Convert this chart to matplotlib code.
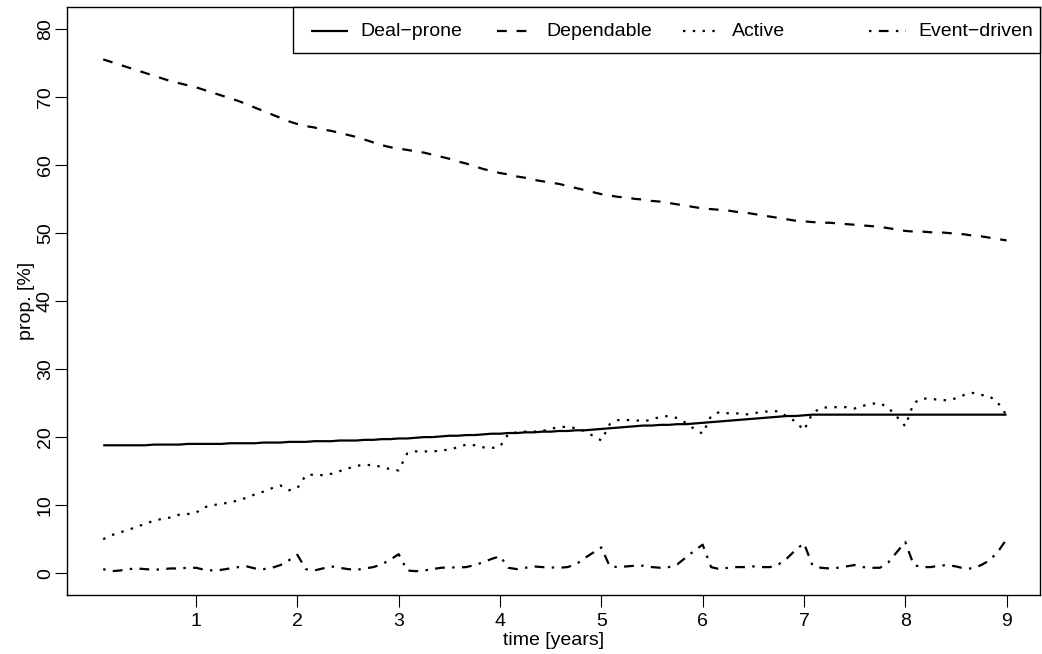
import numpy as np
import matplotlib
matplotlib.use("Agg")
import matplotlib.pyplot as plt
from matplotlib.lines import Line2D
from matplotlib.patches import Rectangle

plt.rcParams['font.family'] = ['Liberation Sans', 'DejaVu Sans']

# monthly time points (years)
months = np.arange(1, 109)
time_years = months / 12.0

deal_prone = [
    18.8, 18.8, 18.8, 18.8, 18.8, 18.8, 18.9, 18.9, 18.9, 18.9, 19.0, 19.0,
    19.0, 19.0, 19.0, 19.1, 19.1, 19.1, 19.1, 19.2, 19.2, 19.2, 19.3, 19.3,
    19.3, 19.4, 19.4, 19.4, 19.5, 19.5, 19.5, 19.6, 19.6, 19.7, 19.7, 19.8,
    19.8, 19.9, 20.0, 20.0, 20.1, 20.2, 20.2, 20.3, 20.3, 20.4, 20.5, 20.5,
    20.6, 20.6, 20.7, 20.7, 20.8, 20.8, 20.9, 20.9, 21.0, 21.0, 21.1, 21.2,
    21.3, 21.4, 21.5, 21.6, 21.7, 21.7, 21.8, 21.8, 21.9, 21.9, 22.0, 22.1,
    22.2, 22.3, 22.4, 22.5, 22.6, 22.7, 22.8, 22.9, 23.0, 23.1, 23.1, 23.2,
    23.3, 23.3, 23.3, 23.3, 23.3, 23.3, 23.3, 23.3, 23.3, 23.3, 23.3, 23.3,
    23.3, 23.3, 23.3, 23.3, 23.3, 23.3, 23.3, 23.3, 23.3, 23.3, 23.3, 23.3,
]

dependable = [
    75.5, 75.1, 74.7, 74.3, 73.9, 73.5, 73.1, 72.7, 72.3, 72.0, 71.7, 71.4,
    71.0, 70.6, 70.2, 69.8, 69.4, 68.9, 68.4, 67.9, 67.4, 66.9, 66.4, 66.0,
    65.7, 65.5, 65.2, 65.0, 64.7, 64.4, 64.1, 63.7, 63.3, 62.9, 62.6, 62.4,
    62.2, 62.0, 61.8, 61.5, 61.2, 60.9, 60.5, 60.2, 59.8, 59.4, 59.1, 58.8,
    58.6, 58.3, 58.1, 57.8, 57.6, 57.4, 57.2, 56.9, 56.6, 56.3, 56.0, 55.7,
    55.5, 55.3, 55.2, 55.0, 54.9, 54.7, 54.6, 54.4, 54.2, 54.0, 53.8, 53.6,
    53.5, 53.4, 53.3, 53.1, 53.0, 52.8, 52.6, 52.4, 52.2, 52.0, 51.8, 51.7,
    51.6, 51.5, 51.5, 51.4, 51.3, 51.2, 51.1, 51.0, 50.9, 50.7, 50.5, 50.3,
    50.2, 50.2, 50.1, 50.1, 50.0, 49.9, 49.8, 49.6, 49.5, 49.3, 49.1, 48.9,
]

active = [
    5.0, 5.6, 6.0, 6.4, 6.8, 7.3, 7.7, 8.0, 8.2, 8.6, 8.7, 8.9,
    9.7, 10.0, 10.2, 10.4, 10.7, 11.1, 11.6, 12.0, 12.5, 12.9, 12.2, 12.5,
    14.4, 14.5, 14.4, 14.6, 15.0, 15.4, 15.8, 15.9, 15.9, 15.6, 15.3, 15.1,
    17.6, 17.9, 17.9, 17.9, 18.0, 18.2, 18.5, 18.9, 18.8, 18.5, 18.4, 18.6,
    20.5, 20.7, 20.8, 20.8, 20.9, 21.2, 21.5, 21.5, 21.3, 20.9, 20.2, 19.5,
    21.9, 22.5, 22.5, 22.5, 22.3, 22.6, 23.0, 23.1, 22.8, 22.1, 21.2, 20.5,
    23.1, 23.7, 23.5, 23.5, 23.3, 23.5, 23.7, 23.8, 23.8, 23.0, 22.3, 21.0,
    23.5, 24.3, 24.4, 24.4, 24.4, 24.2, 24.6, 24.9, 25.0, 24.3, 23.0, 21.6,
    25.0, 25.7, 25.6, 25.5, 25.4, 25.7, 26.2, 26.5, 26.2, 26.0, 25.0, 23.2,
]

event_driven = [
    0.6, 0.3, 0.4, 0.6, 0.7, 0.6, 0.5, 0.6, 0.7, 0.7, 0.8, 0.8,
    0.5, 0.4, 0.5, 0.7, 0.9, 1.0, 0.7, 0.6, 0.8, 1.2, 1.9, 2.7,
    0.6, 0.4, 0.7, 1.0, 0.8, 0.6, 0.5, 0.7, 0.9, 1.3, 2.0, 2.8,
    0.4, 0.3, 0.4, 0.6, 0.8, 0.85, 0.85, 0.9, 1.2, 1.6, 2.1, 2.5,
    0.8, 0.6, 0.8, 1.0, 0.9, 0.85, 0.8, 0.9, 1.3, 2.2, 3.0, 3.8,
    1.0, 0.9, 1.0, 1.1, 1.1, 0.9, 0.8, 0.9, 1.3, 2.3, 3.3, 4.2,
    0.9, 0.6, 0.8, 0.9, 0.9, 1.0, 0.9, 0.9, 1.3, 2.2, 3.4, 4.4,
    1.2, 0.8, 0.7, 0.8, 1.0, 1.2, 0.9, 0.8, 0.8, 1.6, 3.1, 4.6,
    1.2, 0.9, 0.9, 1.1, 1.2, 1.0, 0.7, 0.7, 1.2, 1.9, 3.2, 5.0,
]

series_names = ["Deal\u2212prone", "Dependable", "Active", "Event\u2212driven"]
x_ticks = [1, 2, 3, 4, 5, 6, 7, 8, 9]
y_ticks = [0, 10, 20, 30, 40, 50, 60, 70, 80]

W, H = 1042, 654
FS = 14
fig = plt.figure(figsize=(W / 100, H / 100), dpi=100)
ax = fig.add_axes([67 / W, (H - 595) / H, (1040 - 67) / W, (595 - 7) / H])

lw = 1.6
styles = [
    dict(linestyle='-'),
    dict(linestyle=(0, (4.4, 4.4))),
    dict(linestyle=(0, (1.1, 3.3))),
    dict(linestyle=(0, (1.1, 3.3, 4.4, 3.3))),
]
data = [deal_prone, dependable, active, event_driven]
for vals, name, st in zip(data, series_names, styles):
    ax.plot(time_years, vals, color='black', lw=lw, label=name,
            dash_capstyle='butt', solid_capstyle='butt', **st)

ax.set_xlim(-0.274, 9.33)
ax.set_ylim(-3.2, 83.2)
ax.set_xticks(x_ticks)
ax.set_yticks(y_ticks)
ax.set_yticklabels([str(v) for v in y_ticks], rotation=90, va='center')
ax.tick_params(axis='both', length=8.6, width=0.8, labelsize=FS, color='black')
ax.tick_params(axis='x', pad=4.5)
ax.tick_params(axis='y', pad=0.8)
for s in ax.spines.values():
    s.set_linewidth(1.0)

ax.set_xlabel("time [years]", fontsize=FS, labelpad=1.2)
ax.set_ylabel("prop. [%]", fontsize=FS, labelpad=1.5)

# legend (R-style horizontal legend with equal-width columns), figure pixel layout
def fx(px):
    return px / W

def fy(py):
    return 1 - py / H

frame = Rectangle((fx(293), fy(53)), fx(1040) - fx(293), fy(7) - fy(53),
                  transform=fig.transFigure, facecolor='white',
                  edgecolor='black', linewidth=1.0, zorder=5)
fig.add_artist(frame)
step = 186
seg_len = 37
for i, (name, st) in enumerate(zip(series_names, styles)):
    x0 = 311 + step * i
    ln = Line2D([fx(x0), fx(x0 + seg_len)], [fy(30.5), fy(30.5)],
                transform=fig.transFigure, color='black', lw=lw,
                dash_capstyle='butt', solid_capstyle='butt', zorder=6, **st)
    fig.add_artist(ln)
    fig.text(fx(x0 + 49), fy(31), name, fontsize=FS, ha='left',
             va='center', zorder=6)

fig.savefig("out.png", dpi=100)
